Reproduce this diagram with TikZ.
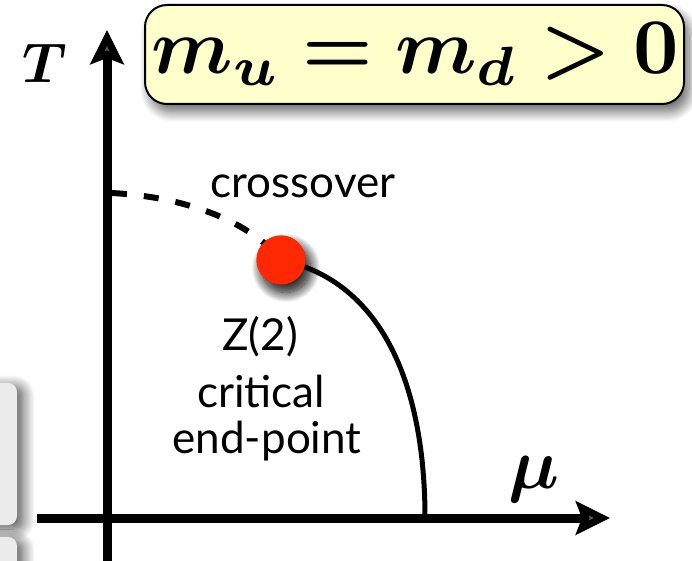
\documentclass[tikz,border=0pt]{standalone}
\usepackage{fontspec}
\usepackage{amsmath,bm}
\setsansfont{Lato}
\usetikzlibrary{arrows.meta,shadows.blur}
\definecolor{boxyellow}{RGB}{255,255,204}
\definecolor{dotred}{RGB}{255,40,0}
\definecolor{sidegray}{RGB}{235,235,235}
\tikzset{
  axis/.style={line width=9pt,-{Stealth[length=34pt,width=33pt,inset=6pt]}},
  curve/.style={line width=5pt},
  dcurve/.style={line width=6pt,dash pattern=on 15pt off 17pt},
  lbl/.style={font=\sffamily\fontsize{44}{50}\selectfont,inner sep=0pt,anchor=base},
  mlbl/.style={inner sep=0pt},
  softshadow/.style={blur shadow={shadow xshift=5pt,shadow yshift=-8pt,shadow blur radius=10pt,shadow blur steps=14,shadow opacity=60}},
  mathbox/.style={draw=black,line width=2pt,fill=boxyellow,rounded corners=22pt,minimum width=539pt,minimum height=99pt,inner sep=0pt,softshadow},
  reddot/.style={circle,fill=dotred,minimum size=49pt,inner sep=0pt,softshadow},
  sidebox/.style={fill=sidegray,rounded corners=9pt,blur shadow={shadow xshift=6pt,shadow yshift=-4pt,shadow blur radius=12pt,shadow blur steps=14,shadow opacity=70}}
}
\begin{document}
\begin{tikzpicture}[x=1pt,y=-1pt]
\useasboundingbox (0,0) rectangle (692,561);
% side boxes
\path[sidebox] (-30,383) rectangle (17,525);
\path[sidebox] (-30,537) rectangle (17,600);
% axes
\coordinate (vbot) at (107,575);
\coordinate (vtop) at (107,30);
\coordinate (hleft) at (37,518);
\coordinate (hright) at (610,518);
\draw[axis] (vbot) -- (vtop);
\draw[axis] (hleft) -- (hright);
% curves
\coordinate (cstart) at (112,193);
\coordinate (cend) at (425,518);
\node[reddot] (cep) at (281,260) {};
\coordinate (dend) at (278,256);
\draw[dcurve] (cstart) .. controls (185,197) and (245,220) .. (dend);
\draw[curve] (cep.center) .. controls (385,282) and (425,390) .. (cend);
\node[reddot] (cep2) at (281,260) {};
% labels
\node[mlbl] (T) at (45,63) {\scalebox{5.6}{$\bm{T}$}};
\node[mlbl] (mu) at (534,479) {\scalebox{7.2}{$\bm{\mu}$}};
\node[mathbox] (mbox) at (414.5,54.5) {};
\node[mlbl] (mtext) at (415,54) {\scalebox{7.9}{$\bm{m_u = m_d > 0}$}};
\node[lbl] (cross) at (303,197) {crossover};
\node[lbl] (z2) at (260,350) {Z(2)};
\node[lbl] (crit) at (261,407) {critical};
\node[lbl] (endp) at (267,453) {end-point};
\end{tikzpicture}
\end{document}
